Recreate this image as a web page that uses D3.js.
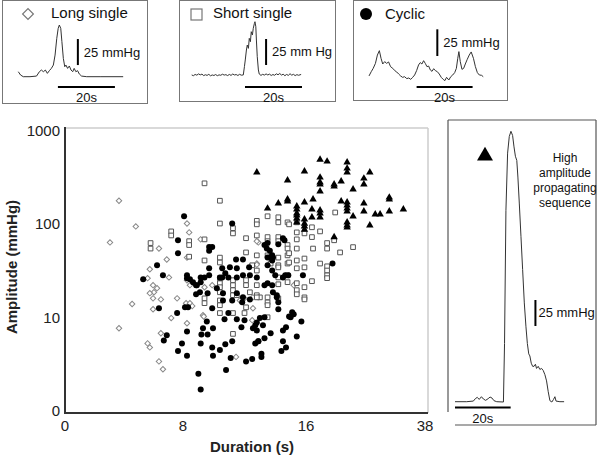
<!DOCTYPE html>
<html><head><meta charset="utf-8">
<script src="https://cdn.jsdelivr.net/npm/d3@7"></script>
<style>body{margin:0;background:#fff}svg{display:block;font-family:"Liberation Sans",Arial,Helvetica,sans-serif}</style>
</head><body><svg id="c" width="600" height="457"></svg>
<script>
// ---- axis ticks ----
const xTicks = [0, 8, 16, 38];
const yTicks = [1, 10, 100, 1000];
const yTickLabels = ["0", "10", "100", "1000"];

// ---- scatter data: [duration s, amplitude mmHg] ----
const hapsPts = [[12.8,360],[18.6,495],[19.9,472],[23.6,462],[23.6,397],[23.6,360],[27.8,360],[15.9,369],[14.8,296],[18.6,318],[18.6,282],[18.6,268],[18.6,226],[21.2,268],[21.2,256],[22.5,289],[26.7,310],[26.7,268],[24.7,237],[31.4,194],[31.4,185],[22.5,176],[26.7,168],[23.6,172],[23.6,160],[23.6,148],[23.6,138],[17.3,185],[15.9,172],[14.8,185],[14.8,176],[14.2,168],[13.5,148],[15.4,156],[15.4,145],[15.4,131],[15.4,125],[15.4,116],[15.4,105],[17.1,145],[18.6,141],[18.6,131],[18.6,119],[17.1,119],[26.7,138],[28.8,128],[29.7,128],[31.4,138],[34.0,145],[24.7,122],[23.6,105],[23.6,97.5],[23.6,93],[27.8,97.5],[15.9,113],[15.9,102],[15.9,95],[15.9,88],[21.2,73]];

const shortPts = [[9.4,275],[10.4,179],[10.4,102],[11.25,91],[11.25,80],[12.8,109],[12.8,100],[7.2,84],[7.2,76],[8.4,66],[8.4,60],[9.4,69],[12.1,71],[5.8,63],[5.8,55],[8.4,45],[12.1,50],[9.4,41],[10.4,44],[10.4,39],[12.8,46.5],[10.4,26.5],[10.4,23.4],[11.25,25.2],[11.25,22.3],[11.25,19.7],[11.25,17.4],[9.4,16.1],[9.4,14.3],[10.4,11.2],[11.25,11.2],[12.0,11.2],[11.25,6.7],[10.4,21.2],[10.4,18.7],[11.5,17.4],[12.1,25.2],[12.1,22.3],[12.35,18.7],[12.8,22.3],[12.8,17.4],[13.0,16.5],[10.4,15.3],[10.4,13.6],[12.1,12.9],[13.5,122],[14.2,119],[14.2,105],[14.8,105],[14.9,100],[15.4,105],[15.4,82],[15.9,80],[17.1,93],[17.1,73],[18.6,84],[21.4,134],[12.8,76],[13.5,73],[13.5,66],[14.2,73],[14.2,66],[14.8,60],[14.8,55],[15.4,69],[15.4,55],[17.3,55],[19.9,63],[19.9,55],[21.2,67.5],[22.3,50],[24.7,57],[13.5,46.5],[14.2,44],[14.2,36.4],[14.2,34.6],[14.8,46.5],[14.8,38],[15.4,41],[15.9,43],[15.9,34.6],[18.6,38],[19.9,35.5],[19.9,32],[19.9,28.4],[19.9,26.5],[15.9,21.2],[15.9,16.5],[15.9,15.7],[17.1,24.6],[15.4,23.4],[15.4,19.7],[15.4,17.8],[13.5,10.1],[14.8,28.4],[14.8,24],[14.2,27],[14.2,22.8],[15.4,33.8],[14.9,49],[14.9,39],[13.5,14.6],[14.2,16.1],[12.8,16.5],[13.5,16.5],[13.5,13.6],[12.5,36.4],[12.8,32],[13.7,38]];

const longPts = [[3.66,179],[8.26,102],[4.8,95],[8.4,82],[3.05,64],[9.15,69],[12.9,64],[6.37,55],[8.26,44],[6.9,42],[12.8,38],[5.75,33],[5.6,26.5],[7.05,27],[8.26,25.2],[8.45,22.3],[5.97,22.3],[6.24,20.7],[6.03,18.7],[5.75,18.3],[5.97,16.1],[6.5,15.7],[4.55,14],[5.97,12.3],[7.6,16.1],[9.4,21.2],[9.9,22.3],[8.2,14.3],[8.45,14.3],[8.6,13.3],[7.2,9.9],[9.3,10.6],[8.26,8.7],[3.66,7.7],[6.5,6.8],[5.6,5.3],[5.75,4.8],[6.37,3.4],[6.64,2.8],[11.45,3.8],[12.5,9.4],[12.55,12.6],[12.8,66],[12.8,37],[9.35,10.3],[11.7,15.3],[12.0,16.1],[12.55,16.5],[15.2,22.3]];

const cyclicPts = [[8.07,122],[11.2,102],[7.66,67.5],[9.7,57],[9.9,57],[9.7,52],[7.66,49],[11.45,42],[11.9,42],[6.24,36.4],[9.7,33.8],[10.55,33.8],[11.05,34.6],[11.5,33.8],[12.3,34.6],[5.3,25.8],[6.64,28.4],[8.26,28.4],[8.26,26.5],[9.15,27],[9.4,27],[9.7,28.4],[8.85,22.3],[9.15,24],[10.55,27],[10.75,30],[9.1,18.7],[9.6,18.3],[8.85,17.8],[10.2,20.7],[10.6,18.3],[10.6,15.3],[11.5,18.3],[11.9,16.5],[11.2,15.3],[11.85,14.6],[12.35,15.7],[8.13,12.9],[8.33,12.9],[6.37,12.6],[9.9,12.6],[10.7,9.6],[11.5,9.6],[12.0,9.4],[7.6,11.2],[9.55,9.1],[12.7,8.3],[12.8,7.3],[9.3,7.7],[9.95,7.7],[11.8,7.9],[8.26,7.1],[9.2,6.6],[9.6,6.6],[6.9,6.5],[6.7,5.7],[11.2,5.6],[12.7,5.3],[12.9,5.6],[10.75,5.2],[9.15,5.3],[7.93,5.3],[9.9,4.8],[10.4,4.5],[7.66,4.4],[8.26,3.9],[9.95,3.9],[11.1,3.7],[12.1,3.4],[12.5,3.6],[10.8,2.75],[9.0,2.5],[9.15,1.7],[10.4,27],[10.95,27],[11.5,27],[11.9,28.4],[12.35,28.4],[12.8,27],[8.65,24],[8.9,22.3],[10.95,11.2],[8.45,25.8],[20.9,38],[15.8,28.4],[15.2,10.9],[15.0,10.1],[15.7,9.1],[14.7,7.9],[14.5,7.3],[15.4,6.3],[14.5,5.6],[14.7,4.8],[14.4,4.4],[13.3,10.1],[13.0,9.9],[12.8,8.9],[13.2,8.3],[12.55,7.7],[13.7,6.8],[13.3,6.0],[12.9,5.6],[13.1,4.1],[13.1,3.8],[14.2,12.3],[13.3,60],[13.5,63],[14.2,61],[14.6,67.5],[14.5,71],[13.65,44],[13.85,44],[13.5,44],[13.8,41],[14.0,28.4],[14.65,28.4],[14.85,28.4],[13.5,23.4],[13.8,22.3],[14.1,17.4],[14.2,14.6],[15.1,11.4],[14.9,10.3],[13.45,55],[13.65,52],[13.8,46.5],[13.5,36.4],[13.8,32],[14.5,27],[13.3,22.3],[13.85,18.7],[14.1,16.5]];

// ---- example traces: [time s, pressure mmHg] ----
const longTrace = [[0,4.8],[0.8,1.6],[1.75,0],[4.1,0],[6.4,0.6],[7.4,4.8],[8.1,6.4],[8.8,4.8],[9.5,6.4],[10.2,3.2],[10.9,5.8],[11.6,8.0],[12.3,11.2],[12.9,20.8],[13.5,36.9],[14.0,46.5],[14.4,49.7],[14.9,46.5],[15.3,33.7],[15.8,17.6],[16.3,9.6],[16.7,11.2],[17.3,8.0],[17.9,10.3],[18.5,6.4],[19.1,4.8],[19.6,8.0],[20.2,4.8],[20.8,5.8],[21.4,2.6],[22.2,0.6],[24.0,0],[28.7,0],[36.8,0]];
const shortTrace = [[0,1.0],[0.6,0.3],[1.2,1.5],[1.8,0.8],[2.4,2.0],[3.0,1.1],[3.6,1.8],[4.2,0.4],[4.8,1.2],[5.4,0.6],[6.0,1.6],[6.6,0.2],[7.2,1.0],[7.8,0.5],[8.4,1.4],[9.0,0.3],[9.6,1.1],[10.2,0.7],[10.8,1.7],[11.4,0.9],[12.0,1.3],[12.6,0.4],[13.2,1.5],[13.8,0.6],[14.4,1.9],[15.0,1.0],[15.6,1.4],[16.2,0.5],[16.8,1.6],[17.4,0.8],[18.1,1.0],[18.5,9],[18.8,15.4],[19.2,25],[19.5,29.8],[19.9,26.6],[20.2,36.2],[20.6,33],[20.9,42.6],[21.3,39.4],[21.6,45.8],[22.0,50.6],[22.2,52.2],[22.5,47.4],[22.7,34.6],[23.0,18.6],[23.4,5.8],[23.7,1.9],[24.3,0.6],[24.9,1.6],[25.5,0.9],[26.1,2.0],[26.7,1.0],[27.3,1.8],[27.9,0.5],[28.5,1.4],[29.1,0.7],[29.7,2.1],[30.3,1.2],[30.9,2.4],[31.5,0.9],[32.1,1.7],[32.7,0.3],[33.3,1.5],[33.9,0.6],[34.5,2.2],[35.1,0.8],[35.7,1.6],[36.3,0.4],[36.9,1.3],[37.5,0.7],[38.4,1.5]];
const cyclicTrace = [[0,3.8],[0.8,7.8],[1.5,10.9],[2.3,15.6],[3.0,23.4],[3.7,27.5],[4.3,20.3],[4.9,15],[5.6,17.2],[6.3,15.6],[7.0,16.9],[7.7,12.5],[8.5,10.9],[9.2,8.8],[9.9,7.5],[10.6,5.6],[11.3,3.8],[12.0,2.5],[12.7,3.1],[13.5,1.3],[14.2,1.9],[14.9,0.6],[15.6,2.5],[16.3,4.7],[17.0,8.8],[17.7,14.1],[18.3,16.3],[18.9,15],[19.5,18.1],[20.1,15.6],[20.7,12.5],[21.3,13.1],[21.9,9.4],[22.5,8.1],[23.1,10.6],[23.7,8.8],[24.4,7.8],[25.1,5.6],[25.8,2.5],[26.5,0.6],[27.1,-0.6],[27.7,2.5],[28.5,0],[29.2,3.1],[29.9,4.7],[30.6,6.9],[31.2,10.9],[31.7,20.3],[32.1,26.6],[32.6,17.2],[33.2,10],[33.8,10.9],[34.4,15],[35.1,19.4],[35.8,23.4],[36.5,26.3],[37.3,20.3],[38.0,12.5],[38.7,6.9],[39.4,4.7],[40.2,4.4],[40.8,3.1]];
const hapsTrace = [[0,0],[4.2,0],[6.6,0.6],[7.3,2.9],[8.0,4.2],[8.7,2.2],[9.5,4.8],[10.2,2.6],[11.0,1.3],[11.9,2.9],[12.6,4.5],[13.3,3.5],[14.0,1.0],[15.0,0],[17.4,-0.3],[17.8,56],[18.3,184],[18.9,239],[19.5,255],[20.1,260],[20.7,256],[21.2,245],[21.7,236],[22.2,232],[22.6,216],[23.1,191],[23.7,159],[24.3,127],[24.9,95],[25.5,72],[26.0,56],[26.5,46],[26.9,44],[27.4,37],[27.9,34],[28.4,34],[28.9,36],[29.3,32],[29.9,34],[30.5,31],[31.1,32],[31.7,30],[32.3,26],[32.9,20],[33.5,9.6],[34.1,1.0],[34.8,-0.3],[35.4,2.2],[35.9,4.8],[36.3,0.6],[37.7,0],[39.2,0]];

const svg = d3.select("#c");

// ---------------- main scatter ----------------
const x = d3.scaleLinear().domain(xTicks).range([65, 183, 306, 425]);
const y = d3.scaleLog().domain([1, 1000]).range([411, 131]);

const frame = svg.append("g");
frame.append("line").attr("x1", 65).attr("x2", 428).attr("y1", 128).attr("y2", 128).attr("stroke", "#ccc").attr("stroke-width", 1.5);
frame.append("line").attr("x1", 428).attr("x2", 428).attr("y1", 128).attr("y2", 413).attr("stroke", "#ccc").attr("stroke-width", 1.5);
frame.append("line").attr("x1", 65).attr("x2", 65).attr("y1", 127).attr("y2", 414).attr("stroke", "#333").attr("stroke-width", 2);
frame.append("line").attr("x1", 64).attr("x2", 428).attr("y1", 413).attr("y2", 413).attr("stroke", "#333").attr("stroke-width", 2);

svg.append("g").selectAll("text").data(xTicks).join("text")
  .attr("x", d => x(d)).attr("y", 431).attr("text-anchor", "middle")
  .attr("font-size", 15).attr("fill", "#222").text(d => d);
svg.append("g").selectAll("text").data(yTicks).join("text")
  .attr("x", 60).attr("y", d => y(d) + 5).attr("text-anchor", "end")
  .attr("font-size", 15).attr("fill", "#222").text((d, i) => yTickLabels[i]);

svg.append("text").attr("x", 252).attr("y", 452).attr("text-anchor", "middle")
  .attr("font-size", 15).attr("font-weight", "bold").attr("fill", "#222").text("Duration (s)");
svg.append("text").attr("transform", "translate(17,267) rotate(-90)").attr("text-anchor", "middle")
  .attr("font-size", 15).attr("font-weight", "bold").attr("fill", "#222").text("Amplitude (mmHg)");

const pts = svg.append("g");
pts.selectAll(".dm").data(longPts).join("path").attr("class", "dm")
  .attr("d", d3.symbol(d3.symbolSquare, 15)())
  .attr("transform", d => `translate(${x(d[0])},${y(d[1])}) rotate(45)`)
  .attr("fill", "#fff").attr("stroke", "#888").attr("stroke-width", 1);
pts.selectAll(".sq").data(shortPts).join("path").attr("class", "sq")
  .attr("d", d3.symbol(d3.symbolSquare, 22)())
  .attr("transform", d => `translate(${x(d[0])},${y(d[1])})`)
  .attr("fill", "#fff").attr("stroke", "#555").attr("stroke-width", 1);
pts.selectAll(".ci").data(cyclicPts).join("circle").attr("class", "ci")
  .attr("cx", d => x(d[0])).attr("cy", d => y(d[1])).attr("r", 3).attr("fill", "#000");
pts.selectAll(".tr").data(hapsPts).join("path").attr("class", "tr")
  .attr("d", d3.symbol(d3.symbolTriangle, 24)())
  .attr("transform", d => `translate(${x(d[0])},${y(d[1])})`).attr("fill", "#000");

// ---------------- insets ----------------
function inset(o) {
  const g = svg.append("g");
  const tx = d3.scaleLinear().domain([0, 20]).range([o.x0, o.x0 + o.pps * 20]);
  const ty = d3.scaleLinear().domain([0, 25]).range([o.base, o.base - o.ppm * 25]);
  const line = d3.line().x(d => tx(d[0])).y(d => ty(d[1]));
  g.append("path").datum(o.trace).attr("d", line).attr("fill", "none").attr("stroke", "#333").attr("stroke-width", 1);
  g.append("line").attr("x1", tx(o.vbar[0])).attr("x2", tx(o.vbar[0])).attr("y1", ty(o.vbar[1])).attr("y2", ty(o.vbar[1] + 25))
    .attr("stroke", "#000").attr("stroke-width", 2);
  g.append("text").attr("x", tx(o.vbar[0]) + o.vlabDx).attr("y", ty(o.vbar[1] + 12.5) + 4.5)
    .attr("font-size", 13).attr("fill", "#111").text(o.vlabel);
  g.append("line").attr("x1", tx(o.hbar[0])).attr("x2", tx(o.hbar[0] + 20)).attr("y1", o.hbarY).attr("y2", o.hbarY)
    .attr("stroke", "#000").attr("stroke-width", 2);
  g.append("text").attr("x", tx(o.hbar[0] + 10)).attr("y", o.hbarY + 15).attr("text-anchor", "middle")
    .attr("font-size", 13).attr("fill", "#111").text("20s");
  return g;
}

function box(x0, y0, x1, y1) {
  svg.append("rect").attr("x", x0 + 0.5).attr("y", y0 + 0.5).attr("width", x1 - x0).attr("height", y1 - y0)
    .attr("fill", "none").attr("stroke", "#777").attr("stroke-width", 1);
}

box(2, 0, 147, 103);
svg.append("path").attr("d", d3.symbol(d3.symbolSquare, 58)()).attr("transform", "translate(28,14) rotate(45)")
  .attr("fill", "#fff").attr("stroke", "#777").attr("stroke-width", 1.2);
svg.append("text").attr("x", 51).attr("y", 18).attr("font-size", 15).attr("fill", "#111").text("Long single");
inset({x0: 18.3, pps: 2.85, base: 76.7, ppm: 1.04, trace: longTrace, vbar: [20.9, 11.2], vlabDx: 6, vlabel: "25 mmHg", hbar: [13.9], hbarY: 87});

box(179, 0, 335, 101);
svg.append("rect").attr("x", 191).attr("y", 9).attr("width", 11).attr("height", 11)
  .attr("fill", "#fff").attr("stroke", "#777").attr("stroke-width", 1.2);
svg.append("text").attr("x", 213).attr("y", 18).attr("font-size", 15).attr("fill", "#111").text("Short single");
inset({x0: 191.7, pps: 2.85, base: 76, ppm: 1.04, trace: shortTrace, vbar: [26.1, 10.6], vlabDx: 6, vlabel: "25 mm Hg", hbar: [18.7], hbarY: 87});

box(353, 0, 507, 100);
svg.append("circle").attr("cx", 366).attr("cy", 14).attr("r", 6).attr("fill", "#000");
svg.append("text").attr("x", 385).attr("y", 19).attr("font-size", 15).attr("fill", "#111").text("Cyclic");
inset({x0: 369, pps: 2.8, base: 80, ppm: 1.067, trace: cyclicTrace, vbar: [24.4, 22.5], vlabDx: 6, vlabel: "25 mmHg", hbar: [17.0], hbarY: 87});

const hp = svg.append("g").attr("stroke", "#555").attr("stroke-width", 1.2);
hp.append("line").attr("x1", 448).attr("x2", 448).attr("y1", 120).attr("y2", 412);
hp.append("line").attr("x1", 448).attr("x2", 596).attr("y1", 120).attr("y2", 120);
hp.append("line").attr("x1", 596).attr("x2", 596).attr("y1", 120).attr("y2", 425);
hp.append("line").attr("x1", 455).attr("x2", 596).attr("y1", 425).attr("y2", 425);
svg.append("path").attr("d", d3.symbol(d3.symbolTriangle, 110)()).attr("transform", "translate(485,156)").attr("fill", "#000");
svg.append("text").attr("text-anchor", "middle").attr("font-size", 12).attr("fill", "#111")
  .selectAll("tspan").data(["High", "amplitude", "propagating", "sequence"]).join("tspan")
  .attr("x", 565).attr("y", (d, i) => 162 + i * 15).text(d => d);
inset({x0: 455, pps: 2.783, base: 401.7, ppm: 1.04, trace: hapsTrace, vbar: [28.9, 72.8], vlabDx: 3, vlabel: "25 mmHg", hbar: [0], hbarY: 407.5});
</script></body></html>
